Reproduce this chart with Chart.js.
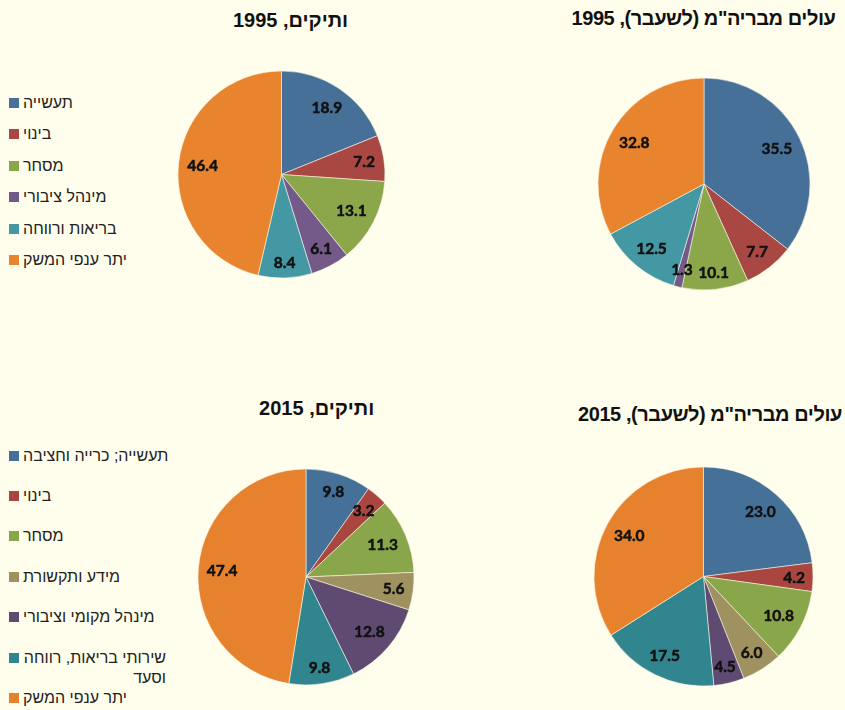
<!DOCTYPE html>
<html>
<head>
<meta charset="utf-8">
<script src="https://cdn.jsdelivr.net/npm/chart.js@4.4.0/dist/chart.umd.min.js"></script>
<style>
html,body{margin:0;padding:0;background:#FFFDEB;}
#wrap{position:relative;width:845px;height:710px;overflow:hidden;background:#FFFDEB;font-family:"Liberation Sans",Arial,"DejaVu Sans",sans-serif;}
.title{position:absolute;font-weight:bold;font-size:20px;color:#111;white-space:nowrap;transform:translate(-50%,-50%);direction:rtl;line-height:1;}
.leg{position:absolute;left:9px;display:flex;align-items:flex-start;}
.sw{width:10px;height:10px;flex:none;margin-top:5px;}
.lt{direction:rtl;font-size:16px;color:#222;margin-left:4px;max-width:152px;line-height:20px;text-align:right;}
canvas{position:absolute;}
</style>
</head>
<body>
<div id="wrap"></div>
<script>
// ---- data ----
const titleImm1995 = 'עולים מבריה"מ (לשעבר), 1995';
const titleVet1995 = 'ותיקים, 1995';
const titleVet2015 = 'ותיקים, 2015';
const titleImm2015 = 'עולים מבריה"מ (לשעבר), 2015';

const labels1995 = ['תעשייה', 'בינוי', 'מסחר', 'מינהל ציבורי', 'בריאות ורווחה', 'יתר ענפי המשק'];
const imm1995 = [35.5, 7.7, 10.1, 1.3, 12.5, 32.8];
const vet1995 = [18.9, 7.2, 13.1, 6.1, 8.4, 46.4];

const labels2015 = ['תעשייה; כרייה וחציבה', 'בינוי', 'מסחר', 'מידע ותקשורת', 'מינהל מקומי וציבורי', 'שירותי בריאות, רווחה וסעד', 'יתר ענפי המשק'];
const vet2015 = [9.8, 3.2, 11.3, 5.6, 12.8, 9.8, 47.4];
const imm2015 = [23.0, 4.2, 10.8, 6.0, 4.5, 17.5, 34.0];

// ---- styles ----
const colors1995 = ['#467098', '#A94843', '#8BA74A', '#735A89', '#4398A3', '#E8832E'];
const colors2015 = ['#457097', '#A8463F', '#8AA64A', '#A09260', '#5F4A72', '#31858E', '#E6822E'];

const wrap = document.getElementById('wrap');

function addTitle(text, x, y, spacing) {
  const d = document.createElement('div');
  d.className = 'title';
  d.textContent = text;
  d.style.left = x + 'px';
  d.style.top = y + 'px';
  if (spacing) d.style.letterSpacing = spacing + 'px';
  wrap.appendChild(d);
}

function addLegend(labels, colors, startY, pitch) {
  labels.forEach((lab, i) => {
    const row = document.createElement('div');
    row.className = 'leg';
    row.style.top = (startY + i * pitch - 10) + 'px';
    const sw = document.createElement('div');
    sw.className = 'sw';
    sw.style.background = colors[i];
    const t = document.createElement('div');
    t.className = 'lt';
    t.textContent = lab;
    row.appendChild(sw);
    row.appendChild(t);
    wrap.appendChild(row);
    // shrink wrapped labels to their widest line
    const range = document.createRange();
    range.selectNodeContents(t);
    const rects = Array.from(range.getClientRects());
    if (rects.length > 1) {
      const maxW = Math.max(...rects.map(r => r.width));
      t.style.width = Math.ceil(maxW + 0.5) + 'px';
    }
  });
}

const sliceLabels = {
  id: 'sliceLabels',
  afterDatasetsDraw(chart) {
    const ctx = chart.ctx;
    const meta = chart.getDatasetMeta(0);
    const vals = chart.data.datasets[0].data;
    ctx.save();
    ctx.font = 'bold 15.5px Lato, "Open Sans", sans-serif';
    ctx.fillStyle = '#111';
    ctx.strokeStyle = '#111';
    ctx.lineWidth = 0.5;
    ctx.lineJoin = 'round';
    ctx.textAlign = 'center';
    ctx.textBaseline = 'alphabetic';
    meta.data.forEach((arc, i) => {
      const p = arc.getProps(['x', 'y', 'startAngle', 'endAngle', 'outerRadius'], true);
      const mid = (p.startAngle + p.endAngle) / 2;
      const ux = Math.cos(mid), uy = Math.sin(mid);
      const txt = vals[i].toFixed(1);
      const w = ctx.measureText(txt).width;
      const ext = Math.abs(ux) * w / 2 + Math.abs(uy) * 7;
      const d = p.outerRadius - 8 - ext;
      const x = p.x + ux * d, y = p.y + uy * d + 5.5;
      ctx.fillText(txt, x, y);
      ctx.strokeText(txt, x, y);
    });
    ctx.restore();
  }
};

function makePie(labels, values, colors, cx, cy, r) {
  const c = document.createElement('canvas');
  const size = Math.round(2 * r + 10);
  c.width = size; c.height = size;
  c.style.width = size + 'px'; c.style.height = size + 'px';
  c.style.left = (cx - size / 2) + 'px';
  c.style.top = (cy - size / 2) + 'px';
  c.setAttribute('dir', 'ltr');
  wrap.appendChild(c);
  new Chart(c, {
    type: 'pie',
    data: {
      labels: labels,
      datasets: [{
        data: values,
        backgroundColor: colors,
        borderColor: 'rgba(255,253,235,0.55)',
        borderWidth: 1
      }]
    },
    options: {
      responsive: false,
      animation: false,
      devicePixelRatio: 1,
      layout: { padding: 4.5 },
      plugins: { legend: { display: false }, tooltip: { enabled: false }, title: { display: false } }
    },
    plugins: [sliceLabels]
  });
}

addTitle(titleVet1995, 290.5, 20, 0);
addTitle(titleImm1995, 703.5, 17.5, -0.45);
addTitle(titleVet2015, 316.7, 408, 0);
addTitle(titleImm2015, 710, 414, -0.45);

addLegend(labels1995, colors1995, 103, 31.4);
addLegend(labels2015, colors2015, 455.5, 40.4);

makePie(labels1995, vet1995, colors1995, 281.7, 174, 103.5);
makePie(labels1995, imm1995, colors1995, 703.7, 184, 106);
makePie(labels2015, vet2015, colors2015, 306.3, 576.8, 108);
makePie(labels2015, imm2015, colors2015, 703, 576.7, 109.5);
</script>
</body>
</html>
